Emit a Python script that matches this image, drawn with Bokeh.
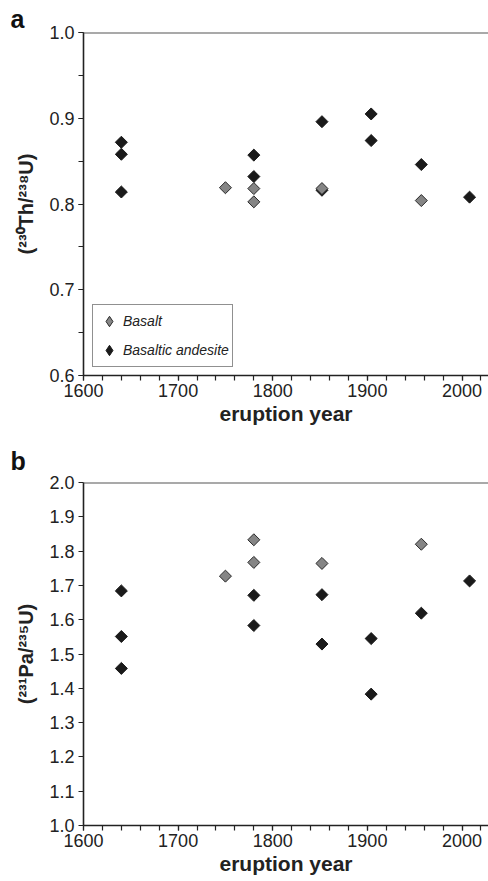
import numpy as np
from bokeh.plotting import figure
from bokeh.layouts import column
from bokeh.models import (Legend, LegendItem, SingleIntervalTicker, Span,
                          Range1d, NumeralTickFormatter)
from bokeh.embed import file_html
from bokeh.resources import INLINE

# ---- data ----
th_basalt_year = [1750, 1780, 1780, 1852, 1957]
th_basalt = [0.819, 0.818, 0.8025, 0.818, 0.804]
th_ba_year = [1640, 1640, 1640, 1780, 1780, 1852, 1852, 1904, 1904, 1957, 2008]
th_ba = [0.872, 0.858, 0.814, 0.857, 0.832, 0.896, 0.816, 0.905, 0.874, 0.846, 0.808]

pa_basalt_year = [1750, 1780, 1780, 1852, 1957]
pa_basalt = [1.727, 1.833, 1.767, 1.764, 1.820]
pa_ba_year = [1640, 1640, 1640, 1780, 1780, 1852, 1852, 1904, 1904, 1957, 2008]
pa_ba = [1.684, 1.551, 1.458, 1.671, 1.583, 1.673, 1.529, 1.545, 1.383, 1.619, 1.713]

FONT = "Liberation Sans"
AX = "#222222"
BLACK = "#1a1a1a"
GRAY = "#858585"


def make_panel(height, top, bottom, yr, yint, yminor, ylabel, bx, by, gx, gy,
               tag, tag_standoff, legend=False):
    p = figure(width=488, height=height, output_backend="svg", toolbar_location=None,
               x_range=Range1d(1600, 2028), y_range=Range1d(*yr),
               min_border_left=83, min_border_right=0, min_border_top=top,
               min_border_bottom=bottom)
    p.outline_line_color = None
    p.xgrid.visible = False
    p.ygrid.visible = False
    p.background_fill_color = "white"

    p.title.text = tag
    p.title.align = "left"
    p.title.offset = -73
    p.title.standoff = tag_standoff
    p.title.text_font = FONT
    p.title.text_font_style = "bold"
    p.title.text_font_size = "25px"
    p.title.text_color = "#111111"

    p.xaxis.ticker = SingleIntervalTicker(interval=100, num_minor_ticks=5)
    p.yaxis.ticker = SingleIntervalTicker(interval=yint, num_minor_ticks=yminor)
    p.yaxis.formatter = NumeralTickFormatter(format="0.0")
    p.xaxis.formatter = NumeralTickFormatter(format="0")
    for ax in (p.xaxis, p.yaxis):
        ax.axis_line_color = AX
        ax.axis_line_width = 1.6
        ax.major_tick_line_color = AX
        ax.minor_tick_line_color = AX
        ax.major_tick_line_width = 1.2
        ax.minor_tick_line_width = 1.2
        ax.major_tick_out = 5
        ax.major_tick_in = 0
        ax.minor_tick_out = 5
        ax.minor_tick_in = 0
        ax.major_label_text_font = FONT
        ax.major_label_text_font_size = "18px"
        ax.major_label_text_color = "#222222"
        ax.axis_label_text_font = FONT
        ax.axis_label_text_font_style = "bold"
        ax.axis_label_text_color = "#222222"
    if not yminor:
        p.yaxis.minor_tick_line_color = None
    p.xaxis.major_label_standoff = 3
    p.yaxis.major_label_standoff = 4
    p.xaxis.axis_label = "eruption year"
    p.xaxis.axis_label_text_font_size = "21px"
    p.xaxis.axis_label_standoff = 2
    p.yaxis.axis_label = ylabel
    p.yaxis.axis_label_text_font_size = "20px"
    p.yaxis.axis_label_standoff = 9

    p.add_layout(Span(location=yr[1], dimension="width", line_color="#555555", line_width=2))

    rb = p.scatter(bx, by, marker="square", angle=np.pi / 4, size=8.5,
                   fill_color=BLACK, line_color=BLACK, line_width=1)
    rg = p.scatter(gx, gy, marker="square", angle=np.pi / 4, size=8.5,
                   fill_color=GRAY, line_color="#2a2a2a", line_width=1)

    if legend:
        # legend-only renderers (diamond symbols), hidden from the plot area
        lg_g = p.scatter(gx, gy, marker="diamond", size=12, fill_color=GRAY,
                         line_color="#2a2a2a", line_width=1, visible=False)
        lg_b = p.scatter(bx, by, marker="diamond", size=12, fill_color=BLACK,
                         line_color=BLACK, line_width=1, visible=False)
        lg = Legend(items=[LegendItem(label="Basalt", renderers=[lg_g]),
                           LegendItem(label="Basaltic andesite", renderers=[lg_b])],
                    location=(9, 8), margin=0, padding=3, spacing=3,
                    glyph_width=26, glyph_height=26, label_height=26, label_standoff=1,
                    label_text_font=FONT, label_text_font_style="italic",
                    label_text_font_size="14px", label_text_color="#222222",
                    border_line_color=AX, border_line_width=1.2,
                    background_fill_color="white", background_fill_alpha=1)
        p.add_layout(lg)
    return p


pa = make_panel(432, 32, 57, (0.6, 1.0), 0.1, 2, "(²³⁰Th/²³⁸U)",
                th_ba_year, th_ba, th_basalt_year, th_basalt, "a", 0, legend=True)
pb = make_panel(449, 50, 56, (1.0, 2.0), 0.1, 0, "(²³¹Pa/²³⁵U)",
                pa_ba_year, pa_ba, pa_basalt_year, pa_basalt, "b", 15)

layout = column(pa, pb, spacing=0)
open("out.html", "w").write(file_html(layout, INLINE))
